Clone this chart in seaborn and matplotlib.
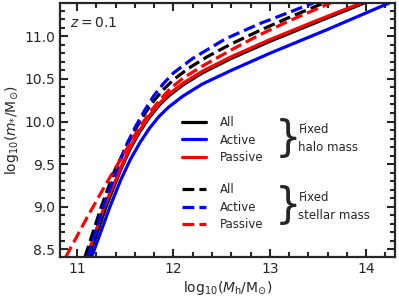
import numpy as np
import matplotlib
matplotlib.use("Agg")
import matplotlib.pyplot as plt
import seaborn as sns
from matplotlib.lines import Line2D
from matplotlib.ticker import MultipleLocator

# Stellar-to-halo mass relation at z = 0.1
# fixed halo mass (solid)
x_all_h = [11.12, 11.30, 11.45, 11.55, 11.65, 11.75, 11.85, 11.95, 12.10, 12.30, 12.60, 13.00, 13.50, 13.98]
y_all_h = [8.41, 9.00, 9.43, 9.68, 9.88, 10.05, 10.19, 10.30, 10.43, 10.57, 10.74, 10.94, 11.17, 11.39]
x_act_h = [11.15, 11.34, 11.45, 11.55, 11.65, 11.75, 11.85, 11.95, 12.10, 12.30, 12.60, 13.00, 13.60, 14.24]
y_act_h = [8.41, 9.00, 9.31, 9.55, 9.75, 9.92, 10.06, 10.17, 10.30, 10.44, 10.60, 10.80, 11.08, 11.39]
x_pas_h = [11.10, 11.28, 11.45, 11.55, 11.65, 11.75, 11.85, 11.95, 12.10, 12.30, 12.60, 13.00, 13.50, 13.95]
y_pas_h = [8.41, 9.00, 9.45, 9.70, 9.90, 10.07, 10.21, 10.32, 10.45, 10.59, 10.76, 10.96, 11.19, 11.39]
# fixed stellar mass (dashed)
x_all_s = [11.08, 11.25, 11.39, 11.50, 11.60, 11.70, 11.80, 11.90, 12.00, 12.15, 12.35, 12.60, 12.90, 13.20, 13.56]
y_all_s = [8.41, 9.00, 9.43, 9.68, 9.90, 10.09, 10.25, 10.38, 10.49, 10.62, 10.76, 10.91, 11.07, 11.22, 11.39]
x_act_s = [11.11, 11.27, 11.41, 11.50, 11.60, 11.70, 11.80, 11.90, 12.00, 12.20, 12.54, 12.90, 13.20, 13.45]
y_act_s = [8.41, 9.00, 9.43, 9.70, 9.93, 10.13, 10.31, 10.45, 10.57, 10.74, 10.97, 11.15, 11.28, 11.39]
x_pas_s = [10.88, 11.00, 11.10, 11.20, 11.30, 11.40, 11.50, 11.57, 11.67, 11.77, 11.87, 11.97, 12.10, 12.30, 12.60, 12.90, 13.20, 13.63]
y_pas_s = [8.41, 8.66, 8.87, 9.07, 9.27, 9.46, 9.65, 9.79, 9.97, 10.13, 10.27, 10.39, 10.51, 10.65, 10.84, 11.02, 11.18, 11.39]

labels = ["All", "Active", "Passive"]
colors = ["black", "blue", "red"]

sns.set_style("ticks")
plt.rcParams["font.family"] = ["DejaVu Sans"]
plt.rcParams["mathtext.fontset"] = "dejavusans"

fig = plt.figure(figsize=(3.99, 2.99), dpi=100)
ax = fig.add_axes([0.150, 0.140, 0.840, 0.850])

lw = 2.3
solid = [(x_all_h, y_all_h), (x_act_h, y_act_h), (x_pas_h, y_pas_h)]
dashed = [(x_all_s, y_all_s), (x_act_s, y_act_s), (x_pas_s, y_pas_s)]
for (xs, ys), c in zip(solid, colors):
    sns.lineplot(x=xs, y=ys, color=c, lw=lw, ax=ax)
for (xs, ys), c in zip(dashed, colors):
    sns.lineplot(x=xs, y=ys, color=c, lw=lw, ls="--", ax=ax)

ax.set_xlim(10.82, 14.3)
ax.set_ylim(8.41, 11.39)
ax.xaxis.set_major_locator(MultipleLocator(1))
ax.xaxis.set_minor_locator(MultipleLocator(0.2))
ax.yaxis.set_major_locator(MultipleLocator(0.5))
ax.yaxis.set_minor_locator(MultipleLocator(0.1))
ax.tick_params(which="both", direction="in", top=True, right=True, width=1.5, labelsize=10)
ax.tick_params(which="major", length=6)
ax.tick_params(which="minor", length=3.5)
for s in ax.spines.values():
    s.set_linewidth(1.6)

ax.set_xlabel(r"log$_{10}$($M_{\rm h}$/M$_{\odot}$)", fontsize=10, labelpad=2)
ax.set_ylabel(r"log$_{10}$($m_{*}$/M$_{\odot}$)", fontsize=10, labelpad=2)
ax.text(0.03, 0.95, r"$z = 0.1$", transform=ax.transAxes, fontsize=10, va="top")

h1 = [Line2D([], [], color=c, lw=lw) for c in colors]
h2 = [Line2D([], [], color=c, lw=lw, ls="--") for c in colors]
leg_kw = dict(loc="upper left", frameon=False, fontsize=8.5, handlelength=2.0,
              handletextpad=1.2, labelspacing=0.38, borderpad=0, borderaxespad=0)
leg1 = ax.legend(h1, labels, bbox_to_anchor=(0.365, 0.555), **leg_kw)
ax.add_artist(leg1)
ax.legend(h2, labels, bbox_to_anchor=(0.365, 0.29), **leg_kw)

ax.text(0.64, 0.466, "}", transform=ax.transAxes, fontsize=30, va="center", ha="left")
ax.text(0.712, 0.466, "Fixed\nhalo mass", transform=ax.transAxes, fontsize=8.5, va="center",
        linespacing=1.5)
ax.text(0.64, 0.20, "}", transform=ax.transAxes, fontsize=30, va="center", ha="left")
ax.text(0.712, 0.20, "Fixed\nstellar mass", transform=ax.transAxes, fontsize=8.5, va="center",
        linespacing=1.5)

fig.savefig("out.png", dpi=100)
